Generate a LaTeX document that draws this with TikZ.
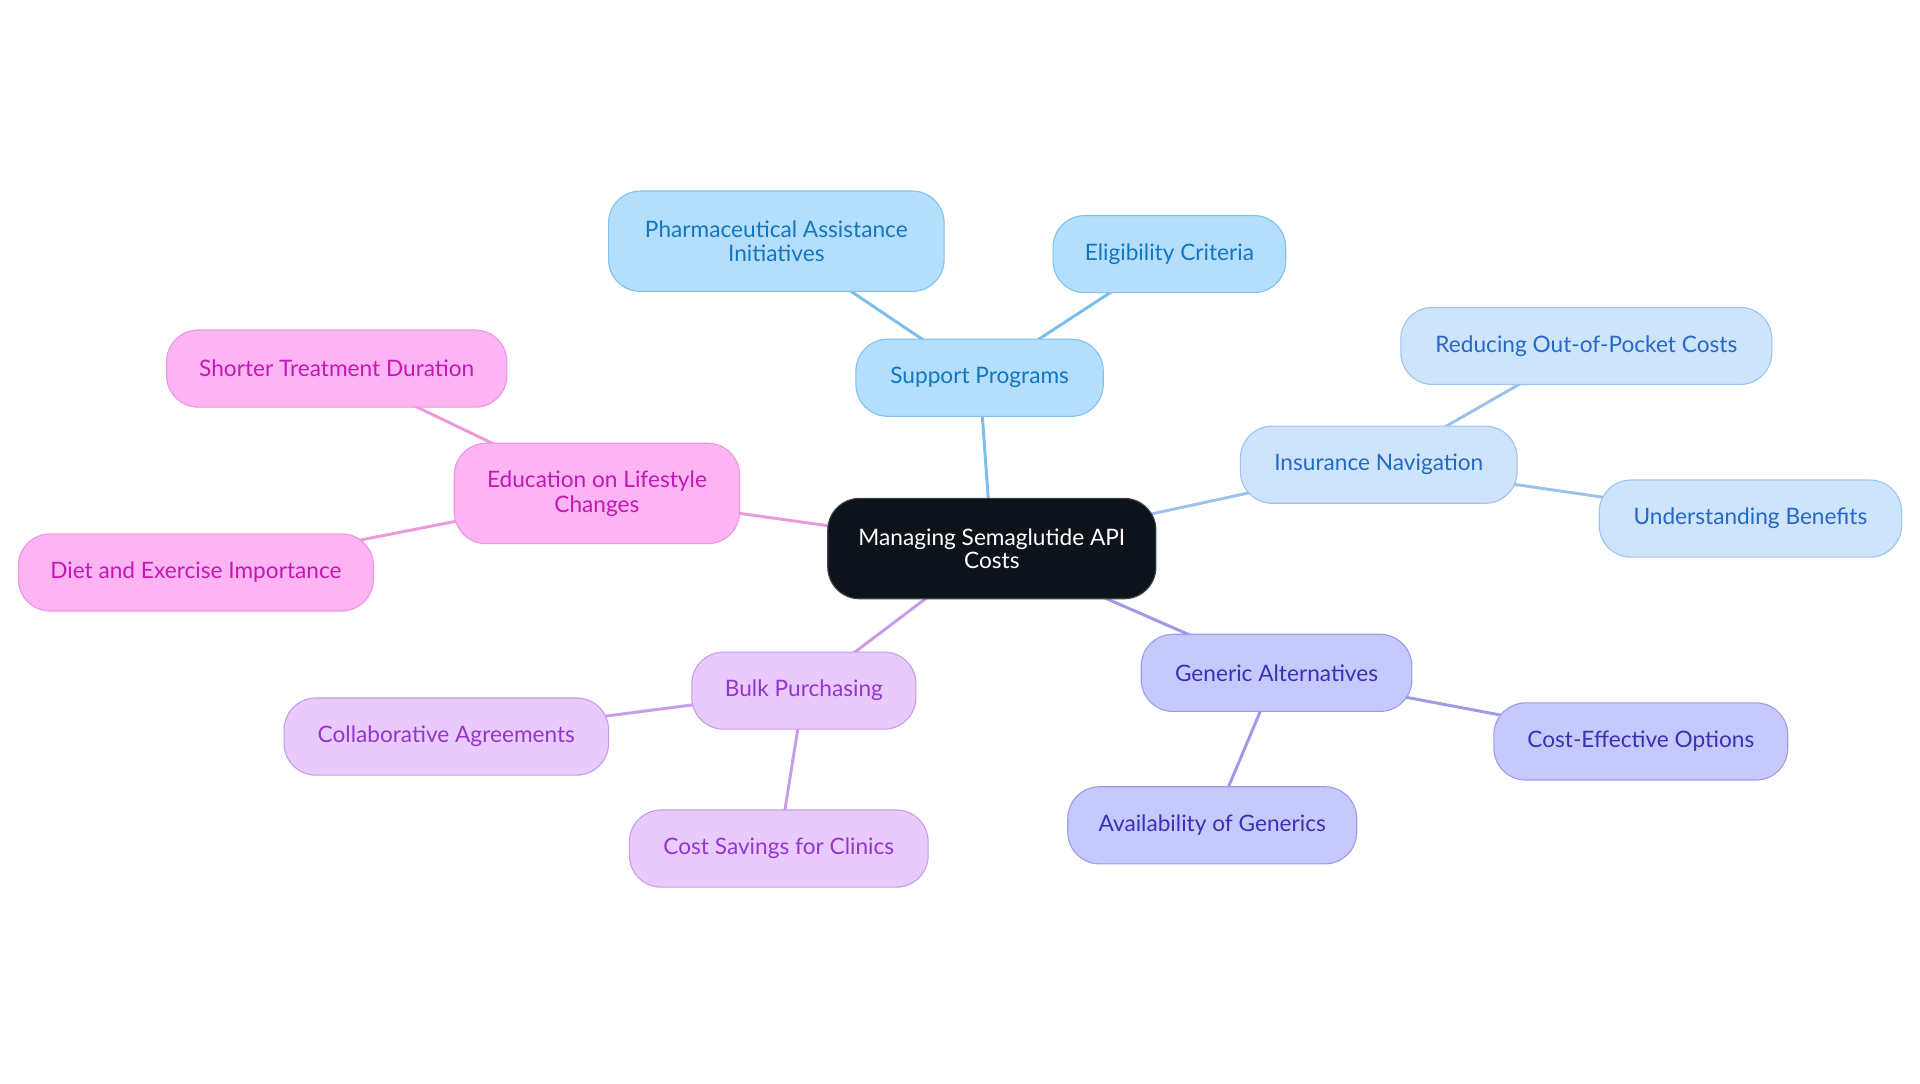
\documentclass[tikz,border=0pt]{standalone}
\usepackage{fontspec}
\setmainfont{Lato}
\usetikzlibrary{backgrounds}
\definecolor{cfill}{HTML}{0D131A}
\definecolor{bAfill}{HTML}{B4DEFB}\definecolor{bAdraw}{HTML}{80C3EE}\definecolor{bAtext}{HTML}{1177C2}\definecolor{bAedge}{HTML}{7ABEE9}
\definecolor{bBfill}{HTML}{CDE4FB}\definecolor{bBdraw}{HTML}{9EC4EE}\definecolor{bBtext}{HTML}{2568C6}\definecolor{bBedge}{HTML}{9DC1EB}
\definecolor{bCfill}{HTML}{C7C9FC}\definecolor{bCdraw}{HTML}{9B9DEB}\definecolor{bCtext}{HTML}{3533B5}\definecolor{bCedge}{HTML}{9B9BE8}
\definecolor{bDfill}{HTML}{E8CBFC}\definecolor{bDdraw}{HTML}{C99BEC}\definecolor{bDtext}{HTML}{9535CB}\definecolor{bDedge}{HTML}{C99BE8}
\definecolor{bEfill}{HTML}{FCB5F2}\definecolor{bEdraw}{HTML}{EE96E0}\definecolor{bEtext}{HTML}{C218B6}\definecolor{bEedge}{HTML}{EC99DC}
\begin{document}
\begin{tikzpicture}[x=1pt,y=-1pt,
  base/.style={rounded corners=26pt, minimum height=63pt, inner xsep=14pt, inner ysep=4pt,
    align=center, font=\fontsize{18.5}{20}\selectfont, line width=0.9pt},
  twoline/.style={minimum height=82pt},
  boxA/.style={base, fill=bAfill, draw=bAdraw, text=bAtext},
  boxB/.style={base, fill=bBfill, draw=bBdraw, text=bBtext},
  boxC/.style={base, fill=bCfill, draw=bCdraw, text=bCtext},
  boxD/.style={base, fill=bDfill, draw=bDdraw, text=bDtext},
  boxE/.style={base, fill=bEfill, draw=bEdraw, text=bEtext},
  rootbox/.style={base, fill=cfill, draw=cfill!80!white, text=white, minimum height=82pt,
    font=\fontsize{18.5}{19}\selectfont},
  edgeline/.style={line width=2.4pt}
]
\useasboundingbox (0,0) rectangle (1568,884.45);

\node[rootbox, minimum width=268pt] (c) at (810,448) {Managing Semaglutide API\\Costs};

\node[boxA, minimum width=202pt] (sp) at (800,308.5) {Support Programs};
\node[boxA, twoline, minimum width=274pt] (pai) at (634,197) {Pharmaceutical Assistance\\Initiatives};
\node[boxA, minimum width=190pt] (ec) at (955,207.5) {Eligibility Criteria};

\node[boxB, minimum width=226pt] (ins) at (1126,379.5) {Insurance Navigation};
\node[boxB, minimum width=303pt] (red) at (1295.5,282.5) {Reducing Out-of-Pocket Costs};
\node[boxB, minimum width=247pt] (ub) at (1429.5,423.5) {Understanding Benefits};

\node[boxC, minimum width=221pt] (ga) at (1042.5,549.5) {Generic Alternatives};
\node[boxC, minimum width=240pt] (ceo) at (1340,605.5) {Cost-Effective Options};
\node[boxC, minimum width=236pt] (ag) at (990,674) {Availability of Generics};

\node[boxD, minimum width=183pt] (bp) at (656.5,564) {Bulk Purchasing};
\node[boxD, minimum width=265pt] (ca) at (364.5,601.5) {Collaborative Agreements};
\node[boxD, minimum width=244pt] (csc) at (636,693) {Cost Savings for Clinics};

\node[boxE, twoline, minimum width=233pt] (edu) at (487.5,403) {Education on Lifestyle\\Changes};
\node[boxE, minimum width=278pt] (std) at (275,301) {Shorter Treatment Duration};
\node[boxE, minimum width=290pt] (dei) at (160,467.5) {Diet and Exercise Importance};

\begin{scope}[on background layer]
  \fill[white] (0,0) rectangle (1568,884.45);
  \draw[edgeline, bAedge] (c.center) -- (sp.center);
  \draw[edgeline, bAedge] (sp.center) -- (pai.center);
  \draw[edgeline, bAedge] (sp.center) -- (ec.center);
  \draw[edgeline, bBedge] (c.center) -- (ins.center);
  \draw[edgeline, bBedge] (ins.center) -- (red.center);
  \draw[edgeline, bBedge] (ins.center) -- (ub.center);
  \draw[edgeline, bCedge] (c.center) -- (ga.center);
  \draw[edgeline, bCedge] (ga.center) -- (ceo.center);
  \draw[edgeline, bCedge] (ga.center) -- (ag.center);
  \draw[edgeline, bDedge] (c.center) -- (bp.center);
  \draw[edgeline, bDedge] (bp.center) -- (ca.center);
  \draw[edgeline, bDedge] (bp.center) -- (csc.center);
  \draw[edgeline, bEedge] (c.center) -- (edu.center);
  \draw[edgeline, bEedge] (edu.center) -- (std.center);
  \draw[edgeline, bEedge] (edu.center) -- (dei.center);
\end{scope}
\end{tikzpicture}
\end{document}
